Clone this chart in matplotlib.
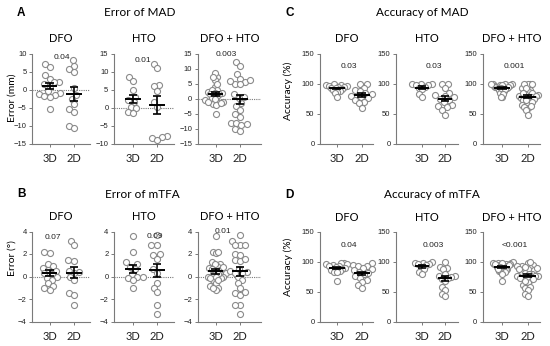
import numpy as np
import matplotlib.pyplot as plt

# ---- data ----
groups = ['3D', '2D']

# Error of MAD (mm)
mad_err_dfo_3d = [7.2, 6.3, 4.0, 3.0, 2.2, 2.0, 1.5, 1.0, -0.5, -1.0, -1.2, -1.5, -1.8, -2.0, -5.3]
mad_err_dfo_2d = [8.1, 6.6, 5.6, 5.0, 0.5, -1.5, -2.5, -3.9, -5.3, -6.2, -10.1, -10.7]
mad_err_hto_3d = [8.4, 7.3, 5.0, 3.0, 2.0, 1.5, 0.2, -0.2, -1.2, -1.5]
mad_err_hto_2d = [12.2, 11.0, 6.2, 5.9, 4.7, 1.4, 0.2, -8.0, -8.2, -8.5, -8.9]

# Error of mTFA (deg)
tfa_err_dfo_3d = [2.2, 2.1, 1.1, 0.9, 0.8, 0.6, 0.5, 0.3, 0.2, 0.0, -0.1, -0.3, -0.6, -0.8, -1.0, -1.2]
tfa_err_dfo_2d = [3.2, 2.8, 1.45, 1.4, 0.5, 0.4, 0.3, 0.0, -0.3, -1.5, -1.6, -2.5]
tfa_err_hto_3d = [3.6, 2.2, 1.25, 1.1, 0.85, 0.65, 0.2, 0.0, 0.0, -0.15, -0.3, -1.05]
tfa_err_hto_2d = [3.7, 2.8, 2.8, 2.0, 1.95, 1.6, 0.65, 0.35, -0.55, -1.0, -1.4, -2.5, -3.3]

# Accuracy of MAD (%)
mad_acc_dfo_3d = [99, 98, 97, 96, 96, 95, 94, 93, 92, 91, 90, 88, 86, 84, 77]
mad_acc_dfo_2d = [100, 99, 93, 90, 87, 84, 82, 80, 78, 76, 73, 70, 67, 59]
mad_acc_hto_3d = [100, 99, 99, 98, 97, 94, 92, 91, 82, 77]
mad_acc_hto_2d = [100, 100, 92, 84, 81, 79, 77, 75, 73, 69, 64, 62, 61, 56, 48]

# Accuracy of mTFA (%)
tfa_acc_dfo_3d = [99, 98, 97, 96, 95, 94, 93, 92, 90, 89, 87, 85, 84, 83, 68]
tfa_acc_dfo_2d = [98, 95, 94, 93, 90, 88, 86, 84, 82, 80, 77, 74, 70, 66, 62, 56]
tfa_acc_hto_3d = [100, 99, 98, 97, 96, 95, 92, 88, 84, 80]
tfa_acc_hto_2d = [100, 92, 90, 88, 80, 77, 76, 75, 74, 71, 68, 58, 54, 46, 43]

subtitles = ['DFO', 'HTO', 'DFO + HTO']

pvals_a = ['0.04', '0.01', '0.003']
pvals_b = ['0.07', '0.09', '0.01']
pvals_c = ['0.03', '0.03', '0.001']
pvals_d = ['0.04', '0.003', '<0.001']


def with_combined(dfo3, dfo2, hto3, hto2):
    return [(dfo3, dfo2), (hto3, hto2), (dfo3 + hto3, dfo2 + hto2)]


panels = [
    dict(letter='A', title='Error of MAD', ylabel='Error (mm)', top=53.5,
         cols='left', pvals=pvals_a, zero=True,
         data=with_combined(mad_err_dfo_3d, mad_err_dfo_2d, mad_err_hto_3d, mad_err_hto_2d),
         ylims=[(-15, 10), (-10, 15), (-15, 15)], step=5,
         pvy=[9.0, 13.0, 14.6], pvx=[0.5, 0.4, 0.45]),
    dict(letter='B', title='Error of mTFA', ylabel='Error (°)', top=231.5,
         cols='left', pvals=pvals_b, zero=True,
         data=with_combined(tfa_err_dfo_3d, tfa_err_dfo_2d, tfa_err_hto_3d, tfa_err_hto_2d),
         ylims=[(-4, 4), (-4, 4), (-4, 4)], step=2,
         pvy=[3.45, 3.6, 4.0], pvx=[0.15, 0.9, 0.3]),
    dict(letter='C', title='Accuracy of MAD', ylabel='Accuracy (%)', top=53.5,
         cols='right', pvals=pvals_c, zero=False,
         data=with_combined(mad_acc_dfo_3d, mad_acc_dfo_2d, mad_acc_hto_3d, mad_acc_hto_2d),
         ylims=[(0, 150)] * 3, step=50,
         pvy=[129, 129, 129], pvx=[0.5, 0.5, 0.5]),
    dict(letter='D', title='Accuracy of mTFA', ylabel='Accuracy (%)', top=232,
         cols='right', pvals=pvals_d, zero=False,
         data=with_combined(tfa_acc_dfo_3d, tfa_acc_dfo_2d, tfa_acc_hto_3d, tfa_acc_hto_2d),
         ylims=[(0, 150)] * 3, step=50,
         pvy=[128, 128, 128], pvx=[0.5, 0.5, 0.5]),
]

# pixel layout: (left spine, right end, 3D centre, 2D centre)
col_px = {
    'left': [(32.3, 90, 49.5, 74), (114, 174, 133, 157), (197.7, 261, 215.5, 240)],
    'right': [(320, 373, 336.7, 361.7), (396, 458, 422, 445), (482.7, 540, 502, 527.5)],
}
head_px = {'A': (21, 13, 140), 'B': (22, 194, 142), 'C': (290, 13, 422), 'D': (289, 195, 432)}
ylab_px = {'A': (12, 98), 'B': (12, 258), 'C': (288, 91), 'D': (288, 267)}

W, H = 550, 346
AX_H = 90
GRAY = '#7a7a7a'
TXT = 'Lato'
NUM = 'Liberation Sans'


def swarm(ax, xc, vals, d=5.6, cap=0.42):
    # beeswarm in pixel space, then squeezed to fit within +-cap (data units)
    vals = np.asarray(vals, float)
    pts = ax.transData.transform(np.column_stack([np.full(len(vals), xc), vals]))
    placed = []
    out = np.zeros_like(pts)
    for i in np.argsort(vals):
        px, py = pts[i]
        blocks = []
        for qx, qy in placed:
            dy = abs(qy - py)
            if dy < d:
                half = np.sqrt(d * d - dy * dy)
                blocks.append((qx - half, qx + half))
        cands = [px] + [b for blk in blocks for b in blk]
        cands.sort(key=lambda c: abs(c - px))
        for c in cands:
            if all(not (lo + 1e-6 < c < hi - 1e-6) for lo, hi in blocks):
                break
        placed.append((c, py))
        out[i] = (c, py)
    xs = ax.transData.inverted().transform(out)[:, 0] - xc
    span = np.abs(xs).max()
    if span > cap:
        xs = xs * cap / span
    return xs + xc


fig = plt.figure(figsize=(W / 100, H / 100), dpi=100)

for p in panels:
    for k, (g3, g2) in enumerate(p['data']):
        left, right, x3, x2 = col_px[p['cols']][k]
        unit = x2 - x3
        ax = fig.add_axes([left / W, 1 - (p['top'] + AX_H) / H, (right - left) / W, AX_H / H])
        ax.set_xlim((left - x3) / unit, (right - x3) / unit)
        lo, hi = p['ylims'][k]
        ax.set_ylim(lo, hi)
        ax.set_yticks(np.arange(lo, hi + 0.1, p['step']))
        ax.set_xticks([0, 1])
        ax.set_xticklabels(groups, fontsize=8, family=TXT)
        for lab in ax.get_yticklabels():
            lab.set_fontsize(5.5)
            lab.set_family(NUM)
        for s in ['top', 'right']:
            ax.spines[s].set_visible(False)
        for s in ['left', 'bottom']:
            ax.spines[s].set_color(GRAY)
            ax.spines[s].set_linewidth(0.8)
        ax.tick_params(colors=GRAY, labelcolor='#222222', length=2.5, width=0.7, pad=1.5)
        ax.tick_params(axis='x', pad=4)
        ax.set_facecolor('none')
        if p['zero']:
            ax.axhline(0, color=GRAY, ls=(0, (1, 1)), lw=0.8, zorder=1)

        for xc, vals in [(0, g3), (1, g2)]:
            xs = swarm(ax, xc, vals)
            ax.scatter(xs, vals, s=19, facecolor='white', edgecolor='#8a8a8a',
                       linewidth=0.8, zorder=2, clip_on=False)
            m = np.mean(vals)
            sem = np.std(vals, ddof=1) / np.sqrt(len(vals))
            ax.hlines(m, xc - 0.32, xc + 0.32, color='black', lw=1.4, zorder=3)
            ax.vlines(xc, m - sem, m + sem, color='black', lw=1.2, zorder=3)
            ax.hlines([m - sem, m + sem], xc - 0.18, xc + 0.18, color='black', lw=1.2, zorder=3)

        ax.text(p['pvx'][k], p['pvy'][k], p['pvals'][k], ha='center', va='center',
                fontsize=6, family=NUM, color='#222222')
        ax.set_title(subtitles[k], fontsize=8, family=TXT, pad=8)

    lx, ly, tx = head_px[p['letter']]
    fig.text(lx / W, 1 - ly / H, p['letter'], fontsize=8.5, weight='bold', family=NUM,
             ha='center', va='center')
    fig.text(tx / W, 1 - ly / H, p['title'], fontsize=8.5, family=TXT, ha='center', va='center')
    yx, yy = ylab_px[p['letter']]
    fig.text(yx / W, 1 - yy / H, p['ylabel'], fontsize=7.5, family=TXT, rotation=90,
             ha='center', va='center')

fig.savefig('out.png', dpi=100)
